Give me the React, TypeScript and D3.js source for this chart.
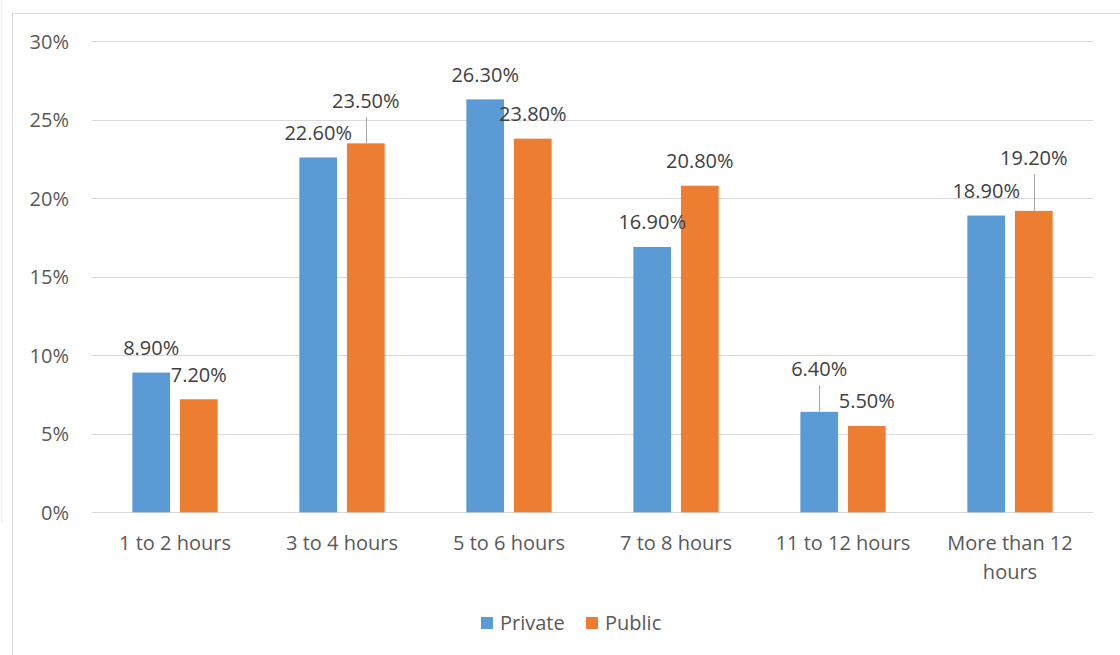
import React from "react";
import * as d3 from "d3";

// Share of respondents by daily hours, split by sector
const categories: string[][] = [
  ["1 to 2 hours"],
  ["3 to 4 hours"],
  ["5 to 6 hours"],
  ["7 to 8 hours"],
  ["11 to 12 hours"],
  ["More than 12", "hours"],
];
const privateValues = [8.9, 22.6, 26.3, 16.9, 6.4, 18.9];
const publicValues = [7.2, 23.5, 23.8, 20.8, 5.5, 19.2];
const seriesNames = ["Private", "Public"];
const seriesColors = ["#5B9BD5", "#ED7D31"];
const yTicks = [0, 5, 10, 15, 20, 25, 30];

// Labels moved up from their default spot get a thin leader line (series index, category index, lift in px)
const liftedLabels: [number, number, number][] = [
  [1, 1, 18],
  [0, 4, 18],
  [1, 5, 28],
];

const W = 1120;
const H = 655;
const FONT = "'Open Sans', 'Noto Sans', sans-serif";
const FS = 20;

export default function App() {
  const left = 91.5;
  const right = 1093.5;
  const top = 41.3;
  const bottom = 512.3;

  const x = d3
    .scaleBand<number>()
    .domain(d3.range(categories.length))
    .range([left, right]);
  const y = d3.scaleLinear().domain([0, 30]).range([bottom, top]);

  const barW = 37.7;
  const half = 23.8;
  const series = [privateValues, publicValues];

  return (
    <svg
      width={W}
      height={H}
      style={{ position: "absolute", left: 0, top: 0, background: "#fff" }}
      fontFamily={FONT}
    >
      <rect x={0} y={0} width={W} height={H} fill="#fff" />
      <line x1={2} x2={2} y1={0} y2={523} stroke="#ececec" strokeWidth={1} />
      <rect
        x={12.5}
        y={13.5}
        width={W + 10}
        height={H + 10}
        fill="none"
        stroke="#d9d9d9"
        strokeWidth={1}
      />

      {/* gridlines and y tick labels */}
      {yTicks.map((t) => (
        <g key={t}>
          <line
            x1={left}
            x2={right}
            y1={Math.round(y(t)) + 0.5}
            y2={Math.round(y(t)) + 0.5}
            stroke="#d9d9d9"
            strokeWidth={1}
          />
          <text
            x={69}
            y={y(t)}
            dy="0.36em"
            textAnchor="end"
            fontSize={FS}
            fill="#595959"
          >
            {t}%
          </text>
        </g>
      ))}

      {/* bars */}
      {series.map((vals, si) =>
        vals.map((v, ci) => {
          const cx = (x(ci) as number) + x.bandwidth() / 2 + (si === 0 ? -half : half);
          return (
            <rect
              key={`${si}-${ci}`}
              x={cx - barW / 2}
              y={y(v)}
              width={barW}
              height={y(0) - y(v)}
              fill={seriesColors[si]}
            />
          );
        })
      )}

      {/* data labels */}
      {series.map((vals, si) =>
        vals.map((v, ci) => {
          const cx = (x(ci) as number) + x.bandwidth() / 2 + (si === 0 ? -half : half);
          const lift = liftedLabels.find((l) => l[0] === si && l[1] === ci);
          const base = y(v) - 17.5 - (lift ? lift[2] : 0);
          return (
            <g key={`l-${si}-${ci}`}>
              {lift && (
                <line
                  x1={Math.round(cx) + 0.5}
                  x2={Math.round(cx) + 0.5}
                  y1={base + 9}
                  y2={y(v)}
                  stroke="#a6a6a6"
                  strokeWidth={1}
                />
              )}
              <text
                x={cx}
                y={base}
                textAnchor="middle"
                fontSize={FS}
                fill="#404040"
              >
                {v.toFixed(2)}%
              </text>
            </g>
          );
        })
      )}

      {/* category labels */}
      {categories.map((lines, ci) => (
        <text
          key={ci}
          x={(x(ci) as number) + x.bandwidth() / 2}
          y={550}
          textAnchor="middle"
          fontSize={FS}
          fill="#595959"
        >
          {lines.map((ln, li) => (
            <tspan key={li} x={(x(ci) as number) + x.bandwidth() / 2} dy={li === 0 ? 0 : 28.5}>
              {ln}
            </tspan>
          ))}
        </text>
      ))}

      {/* legend */}
      {seriesNames.map((name, i) => {
        const lx = i === 0 ? 481 : 586;
        return (
          <g key={name}>
            <rect x={lx} y={617} width={12} height={12} fill={seriesColors[i]} />
            <text x={lx + 19} y={630} fontSize={FS} fill="#595959">
              {name}
            </text>
          </g>
        );
      })}
    </svg>
  );
}
